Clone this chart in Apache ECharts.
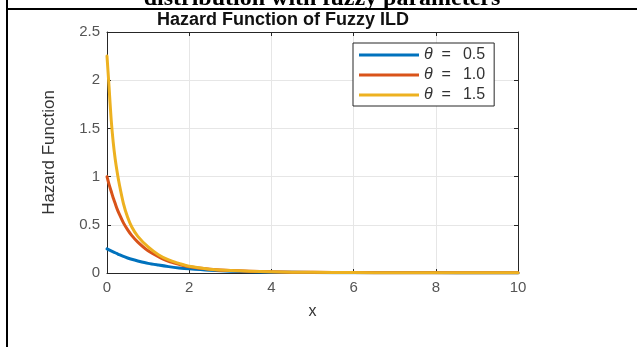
<!DOCTYPE html>
<html>
<head>
<meta charset="utf-8">
<script src="https://cdn.jsdelivr.net/npm/echarts@6/dist/echarts.min.js"></script>
<style>
  html, body { margin: 0; padding: 0; background: #fff; }
  #chart { width: 637px; height: 347px; }
</style>
</head>
<body>
<div id="chart"></div>
<script>
// Sample points along x
const xs = [0, 0.05, 0.1, 0.15, 0.2, 0.25, 0.3, 0.4, 0.5, 0.6, 0.75, 1, 1.25, 1.5, 1.75, 2, 2.5, 3, 4, 5, 6, 7, 8, 9, 10];

// Hazard values for each theta
const hazardTheta05 = [0.25, 0.24, 0.23, 0.22, 0.21, 0.2, 0.19, 0.172, 0.156, 0.142, 0.125, 0.1, 0.082, 0.066, 0.053, 0.043, 0.028, 0.018, 0.009, 0.005, 0.003, 0.002, 0.0015, 0.001, 0.001];
const hazardTheta10 = [1.0, 0.92, 0.85, 0.78, 0.72, 0.66, 0.61, 0.52, 0.45, 0.39, 0.32, 0.23, 0.17, 0.12, 0.09, 0.065, 0.04, 0.025, 0.012, 0.007, 0.005, 0.003, 0.003, 0.002, 0.002];
const hazardTheta15 = [2.25, 1.93, 1.6, 1.36, 1.18, 1.04, 0.92, 0.72, 0.58, 0.48, 0.38, 0.27, 0.19, 0.135, 0.1, 0.07, 0.04, 0.025, 0.012, 0.007, 0.005, 0.003, 0.003, 0.002, 0.002];

const thetaValues = ['0.5', '1.0', '1.5'];
const seriesNames = thetaValues.map(v => 'θ = ' + v);
const seriesValues = [hazardTheta05, hazardTheta10, hazardTheta15];
const seriesColors = ['#0072BD', '#D95319', '#EDB120'];

const xTicks = [0, 2, 4, 6, 8, 10];
const yTicks = [0, 0.5, 1, 1.5, 2, 2.5];

const chart = echarts.init(document.getElementById('chart'), null, { renderer: 'canvas' });

const sans = 'Liberation Sans, Arial, Helvetica, sans-serif';
const labelColor = '#555';
const axisColor = '#262626';
const gridColor = '#e6e6e6';

function makeSeries(i) {
  return {
    name: seriesNames[i],
    type: 'line',
    xAxisIndex: 0,
    yAxisIndex: 0,
    symbol: 'none',
    smooth: 0.3,
    color: seriesColors[i],
    lineStyle: { width: 3, color: seriesColors[i], cap: 'round', join: 'round' },
    data: xs.map((x, k) => [x, seriesValues[i][k]])
  };
}

chart.setOption({
  animation: false,
  backgroundColor: '#fff',
  title: {
    text: 'Hazard Function of Fuzzy ILD',
    left: 157,
    top: 11,
    padding: 0,
    textStyle: { fontFamily: sans, fontSize: 18, fontWeight: 'bold', color: '#111' }
  },
  legend: {
    orient: 'vertical',
    left: 353,
    top: 43,
    icon: 'rect',
    itemWidth: 60,
    itemHeight: 3,
    itemGap: 4,
    padding: [4, 9, 3, 6],
    borderColor: '#262626',
    borderWidth: 1,
    borderRadius: 0,
    backgroundColor: '#fff',
    data: seriesNames,
    formatter: name => '{it|θ}  {eq|=}{num|' + name.split('= ')[1] + '}',
    textStyle: {
      fontFamily: sans, fontSize: 16, color: '#333', lineHeight: 15,
      rich: {
        it: { fontStyle: 'italic', fontFamily: sans, fontSize: 16, color: '#333', lineHeight: 15 },
        eq: { fontFamily: sans, fontSize: 16, color: '#333', lineHeight: 15 },
        num: { fontFamily: sans, fontSize: 16, color: '#333', lineHeight: 15, padding: [0, 0, 0, 12] }
      }
    }
  },
  grid: { left: 107, top: 32, right: 119, bottom: 74, show: false },
  xAxis: [
    {
      type: 'value', min: 0, max: 10, interval: 2,
      name: 'x', nameLocation: 'middle', nameGap: 31,
      nameTextStyle: { fontFamily: sans, fontSize: 16, color: '#333' },
      axisLine: { show: true, onZero: false, lineStyle: { color: axisColor, width: 1 } },
      axisTick: { show: true, inside: true, length: 4, lineStyle: { color: axisColor } },
      axisLabel: { fontFamily: sans, fontSize: 15, color: labelColor, margin: 7,
        customValues: xTicks },
      splitLine: { show: true, lineStyle: { color: gridColor, width: 1 } }
    },
    {
      type: 'value', min: 0, max: 10, interval: 2, position: 'top',
      axisLine: { show: true, onZero: false, lineStyle: { color: axisColor, width: 1 } },
      axisTick: { show: true, inside: true, length: 4, lineStyle: { color: axisColor } },
      axisLabel: { show: false },
      splitLine: { show: false }
    }
  ],
  yAxis: [
    {
      type: 'value', min: 0, max: 2.5, interval: 0.5,
      name: 'Hazard Function', nameLocation: 'middle', nameGap: 49,
      nameTextStyle: { fontFamily: sans, fontSize: 17, color: '#333' },
      axisLine: { show: true, onZero: false, lineStyle: { color: axisColor, width: 1 } },
      axisTick: { show: true, inside: true, length: 4, lineStyle: { color: axisColor } },
      axisLabel: { fontFamily: sans, fontSize: 15, color: labelColor, margin: 7,
        customValues: yTicks },
      splitLine: { show: true, lineStyle: { color: gridColor, width: 1 } }
    },
    {
      type: 'value', min: 0, max: 2.5, interval: 0.5, position: 'right',
      axisLine: { show: true, onZero: false, lineStyle: { color: axisColor, width: 1 } },
      axisTick: { show: true, inside: true, length: 4, lineStyle: { color: axisColor } },
      axisLabel: { show: false },
      splitLine: { show: false }
    }
  ],
  graphic: [
    {
      type: 'text',
      z: 10,
      style: {
        text: 'distribution with fuzzy parameters',
        x: 322, y: 11,
        align: 'center', verticalAlign: 'bottom',
        font: 'bold 24px "Liberation Serif", "Times New Roman", serif',
        fill: '#000'
      }
    },
    {
      type: 'rect', z: 11,
      shape: { x: 6, y: 8, width: 631, height: 2 },
      style: { fill: '#000' }
    },
    {
      type: 'rect', z: 11,
      shape: { x: 6, y: 0, width: 2, height: 347 },
      style: { fill: '#000' }
    }
  ],
  series: [makeSeries(0), makeSeries(1), makeSeries(2)]
});
</script>
</body>
</html>
